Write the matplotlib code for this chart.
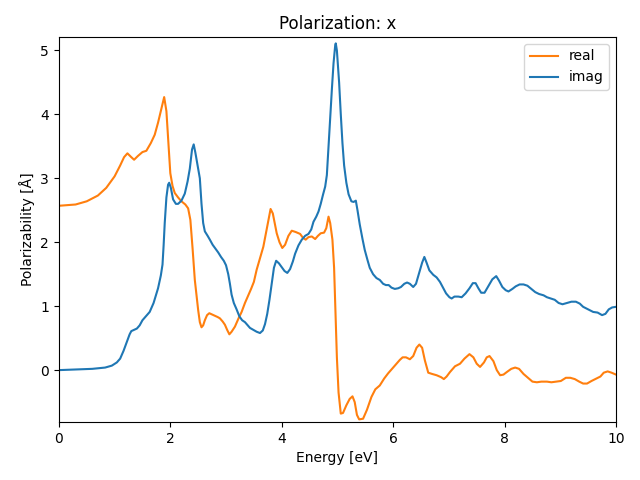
#!/usr/bin/env python3
"""
Polarizability spectrum (real / imaginary parts), x polarization.
"""

import matplotlib
matplotlib.use('Agg')
import matplotlib.pyplot as plt

# Real part: energy [eV] and polarizability [Å]
energy_real = [
    0.0, 0.3, 0.5, 0.7, 0.85, 1.0, 1.1, 1.17, 1.23, 1.3, 1.35, 1.42, 1.5, 1.57,
    1.65, 1.72, 1.78, 1.83, 1.89, 1.93, 1.97, 2.0, 2.04, 2.08, 2.14, 2.2, 2.27,
    2.32, 2.36, 2.4, 2.44, 2.5, 2.53, 2.56, 2.59, 2.62, 2.66, 2.7, 2.75, 2.8,
    2.85, 2.89, 2.94, 2.98, 3.02, 3.06, 3.1, 3.16, 3.22, 3.28, 3.34, 3.4, 3.45,
    3.5, 3.55, 3.6, 3.67, 3.73, 3.78, 3.8, 3.84, 3.88, 3.91, 3.96, 4.01, 4.06,
    4.12, 4.18, 4.25, 4.33, 4.38, 4.43, 4.48, 4.54, 4.6, 4.65, 4.7, 4.76, 4.8,
    4.84, 4.87, 4.91, 4.94, 4.96, 4.99, 5.02, 5.06, 5.1, 5.16, 5.22, 5.27, 5.31,
    5.35, 5.39, 5.46, 5.53, 5.61, 5.68, 5.76, 5.84, 5.91, 5.98, 6.06, 6.12,
    6.17, 6.23, 6.3, 6.36, 6.42, 6.47, 6.52, 6.57, 6.63, 6.7, 6.78, 6.86, 6.91,
    6.96, 7.02, 7.11, 7.2, 7.28, 7.37, 7.44, 7.5, 7.56, 7.63, 7.68, 7.73, 7.8,
    7.86, 7.92, 7.98, 8.04, 8.12, 8.19, 8.26, 8.34, 8.42, 8.5, 8.58, 8.66, 8.76,
    8.84, 8.93, 9.01, 9.1, 9.18, 9.26, 9.34, 9.41, 9.48, 9.56, 9.65, 9.72, 9.78,
    9.85, 9.92, 10.0,
]
alpha_real = [
    2.57, 2.59, 2.64, 2.73, 2.85, 3.03, 3.2, 3.33, 3.39, 3.33, 3.29, 3.35, 3.41,
    3.43, 3.55, 3.68, 3.87, 4.05, 4.27, 4.05, 3.5, 3.08, 2.88, 2.77, 2.7, 2.64,
    2.59, 2.53, 2.35, 1.9, 1.41, 0.94, 0.75, 0.67, 0.7, 0.78, 0.86, 0.89, 0.87,
    0.85, 0.83, 0.81, 0.76, 0.71, 0.63, 0.56, 0.6, 0.68, 0.8, 0.91, 1.05, 1.17,
    1.27, 1.38, 1.57, 1.72, 1.93, 2.2, 2.42, 2.52, 2.45, 2.27, 2.14, 2.0, 1.91,
    1.96, 2.1, 2.18, 2.16, 2.13, 2.07, 2.04, 2.08, 2.09, 2.05, 2.1, 2.14, 2.15,
    2.22, 2.4, 2.3, 2.04, 1.6, 1.05, 0.2, -0.35, -0.68, -0.67, -0.55, -0.45,
    -0.41, -0.5, -0.7, -0.77, -0.76, -0.62, -0.42, -0.3, -0.24, -0.13, -0.05,
    0.02, 0.1, 0.16, 0.2, 0.2, 0.17, 0.22, 0.35, 0.4, 0.35, 0.15, -0.04, -0.06,
    -0.08, -0.11, -0.14, -0.1, -0.03, 0.06, 0.1, 0.18, 0.25, 0.2, 0.1, 0.05,
    0.12, 0.2, 0.22, 0.14, 0.0, -0.08, -0.07, -0.03, 0.02, 0.04, 0.02, -0.06,
    -0.12, -0.18, -0.19, -0.18, -0.18, -0.19, -0.18, -0.17, -0.12, -0.12, -0.14,
    -0.18, -0.21, -0.21, -0.17, -0.13, -0.1, -0.04, -0.02, -0.04, -0.07,
]

# Imaginary part
energy_imag = [
    0.0, 0.3, 0.6, 0.83, 0.95, 1.04, 1.1, 1.16, 1.22, 1.27, 1.3, 1.35, 1.4,
    1.45, 1.5, 1.55, 1.63, 1.7, 1.78, 1.83, 1.86, 1.88, 1.9, 1.93, 1.96, 1.98,
    2.01, 2.05, 2.1, 2.14, 2.2, 2.26, 2.31, 2.35, 2.39, 2.42, 2.45, 2.49, 2.53,
    2.56, 2.59, 2.62, 2.67, 2.71, 2.76, 2.81, 2.86, 2.91, 2.96, 3.0, 3.04, 3.07,
    3.1, 3.14, 3.19, 3.24, 3.29, 3.34, 3.37, 3.43, 3.49, 3.55, 3.61, 3.66, 3.7,
    3.74, 3.78, 3.82, 3.86, 3.9, 3.95, 4.0, 4.05, 4.1, 4.15, 4.2, 4.24, 4.3,
    4.36, 4.42, 4.48, 4.53, 4.57, 4.62, 4.66, 4.7, 4.74, 4.78, 4.81, 4.84, 4.87,
    4.9, 4.93, 4.96, 4.97, 4.99, 5.01, 5.03, 5.06, 5.09, 5.12, 5.16, 5.2, 5.25,
    5.29, 5.33, 5.36, 5.4, 5.45, 5.49, 5.54, 5.58, 5.64, 5.7, 5.76, 5.82, 5.87,
    5.92, 5.97, 6.03, 6.09, 6.14, 6.2, 6.25, 6.3, 6.36, 6.41, 6.46, 6.52, 6.56,
    6.6, 6.65, 6.72, 6.78, 6.84, 6.9, 6.95, 7.01, 7.05, 7.1, 7.17, 7.23, 7.3,
    7.37, 7.43, 7.48, 7.53, 7.58, 7.64, 7.7, 7.78, 7.85, 7.9, 7.96, 8.02, 8.07,
    8.14, 8.2, 8.27, 8.34, 8.41, 8.48, 8.55, 8.62, 8.7, 8.76, 8.83, 8.9, 8.97,
    9.04, 9.12, 9.2, 9.28, 9.35, 9.41, 9.5, 9.59, 9.67, 9.75, 9.81, 9.87, 9.93,
    10.0,
]
alpha_imag = [
    0.0, 0.01, 0.02, 0.04, 0.07, 0.12, 0.18, 0.3, 0.44, 0.56, 0.61, 0.63, 0.65,
    0.7, 0.78, 0.83, 0.91, 1.05, 1.28, 1.48, 1.65, 1.95, 2.3, 2.7, 2.9, 2.93,
    2.85, 2.67, 2.6, 2.6, 2.65, 2.76, 2.95, 3.15, 3.45, 3.53, 3.4, 3.2, 3.0, 2.6,
    2.3, 2.17, 2.1, 2.04, 1.96, 1.9, 1.84, 1.77, 1.71, 1.64, 1.5, 1.35, 1.18,
    1.05, 0.95, 0.84, 0.78, 0.75, 0.72, 0.66, 0.63, 0.6, 0.58, 0.62, 0.72, 0.88,
    1.1, 1.35, 1.6, 1.71, 1.67, 1.61, 1.55, 1.52, 1.58, 1.7, 1.82, 1.95, 2.04,
    2.1, 2.13, 2.2, 2.32, 2.4, 2.48, 2.6, 2.74, 2.87, 3.05, 3.5, 3.95, 4.39, 4.8,
    5.08, 5.11, 5.0, 4.75, 4.5, 4.0, 3.55, 3.2, 2.93, 2.75, 2.64, 2.63, 2.65,
    2.5, 2.28, 2.05, 1.88, 1.72, 1.6, 1.5, 1.44, 1.41, 1.35, 1.33, 1.33, 1.29,
    1.27, 1.28, 1.3, 1.35, 1.37, 1.35, 1.3, 1.35, 1.5, 1.68, 1.77, 1.68, 1.56,
    1.49, 1.45, 1.38, 1.28, 1.2, 1.14, 1.12, 1.15, 1.15, 1.14, 1.2, 1.28, 1.36,
    1.36, 1.28, 1.21, 1.21, 1.3, 1.42, 1.47, 1.4, 1.3, 1.25, 1.23, 1.27, 1.31,
    1.34, 1.34, 1.32, 1.27, 1.22, 1.19, 1.17, 1.14, 1.12, 1.1, 1.05, 1.03, 1.05,
    1.07, 1.07, 1.04, 0.99, 0.95, 0.91, 0.9, 0.86, 0.88, 0.95, 0.98, 0.99,
]

fig, ax = plt.subplots(figsize=(6.4, 4.8), dpi=100)

ax.plot(energy_real, alpha_real, color='C1', label='real')
ax.plot(energy_imag, alpha_imag, color='C0', label='imag')

ax.set_title('Polarization: x')
ax.set_xlabel('Energy [eV]')
ax.set_ylabel('Polarizability [Å]')
ax.set_xlim(0, 10)
ax.set_ylim(-0.81, 5.21)
ax.legend(loc='upper right')

# axes box placed to match the reference (left 59px, right 616px, top 37px, bottom 422px)
fig.subplots_adjust(left=0.092, right=0.9625, top=0.923, bottom=0.121)
plt.savefig('out.png', dpi=100)
plt.close()
